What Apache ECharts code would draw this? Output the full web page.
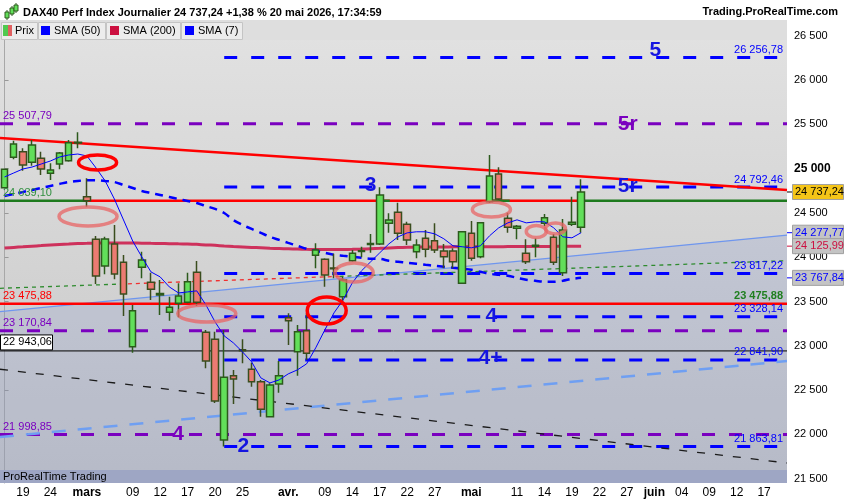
<!DOCTYPE html>
<html><head><meta charset="utf-8">
<script src="https://cdn.jsdelivr.net/npm/echarts@6/dist/echarts.min.js"></script>
<style>html,body{margin:0;padding:0;background:#fff}#c{width:850px;height:500px}</style>
</head><body><div id="c"></div>
<script>
// ---------- DATA ----------
const dates = ['02-17','02-18','02-19','02-20','02-23','02-24','02-25','02-26','02-27',
'03-02','03-03','03-04','03-05','03-06','03-09','03-10','03-11','03-12','03-13','03-16','03-17','03-18','03-19','03-20','03-23','03-24','03-25','03-26','03-27','03-30','03-31',
'04-01','04-02','04-07','04-08','04-09','04-10','04-13','04-14','04-15','04-16','04-17','04-20','04-21','04-22','04-23','04-24','04-27','04-28','04-29','04-30',
'05-04','05-05','05-06','05-07','05-08','05-11','05-12','05-13','05-14','05-15','05-18','05-19','05-20','05-21','05-22','05-25','05-26','05-27','05-28','05-29',
'06-01','06-02','06-03','06-04','06-05','06-08','06-09','06-10','06-11','06-12','06-15','06-16','06-17','06-18','06-19'];

const opens  = [24786,25129,25192,25073,25118,24948,25053,25091,25290,24684,24203,23902,24150,23944,22991,23887,23718,23575,23379,23481,23492,23831,23153,23074,21937,22663,22955,22736,22596,22200,22570,23318,22934,23172,24023,23977,23880,23555,23962,24065,24145,24150,24384,24508,24373,24063,24215,24187,24071,24071,23706,24271,24007,24628,24940,24440,24327,24045,24125,24384,24226,23826,24373,24339];
const closes = [24994,25279,25042,25268,24997,24986,25177,25294,25300,24639,23789,24207,23812,23586,23397,23970,23639,23590,23436,23563,23724,23492,22829,22378,22645,22626,22945,22596,22284,22558,22663,23284,23160,22916,24082,23800,23870,23744,24045,24075,24155,24703,24421,24271,24195,24139,24090,24082,24007,23950,24289,23989,24391,24918,24658,24339,24350,23950,24135,24447,23944,24308,24395,24737.24];
const lows   = [24780,25106,24978,25034,24929,24873,24993,25080,25230,24571,23699,23808,23752,23337,22923,23763,23518,23349,23284,23323,23480,23450,22747,22355,21863.81,22343,22803,22540,22200,22193,22471,23009,22664,22840,23876,23668,23763,23506,23950,24000,24052,24140,24278,24195,24139,23989,24000,24049,23876,23876,23699,23962,23989,24613,24647,24278,24203,23924,24000,24354,23913,23789,24354,24278];
const highs  = [25000,25316,25230,25324,25192,25061,25189,25324,25411,24892,24240,24233,24365,24026,23461,24063,23826,23744,23555,23706,23826,23958,23179,23160,23179,22727,23074,22810,22614,22577,22829,23368,23236,23368,24158,23989,24039,23781,24082,24120,24263,24790,24497,24616,24402,24203,24308,24384,24150,24102,24295,24410,24398,25155,25016,24504,24365,24203,24215,24489,24263,24432,24684,24880];

const sma7   = [24907,24952,24997,25019,25053,25087,25132,25155,25166,25144,25008,24861,24658,24421,24184,24004,23835,23779,23666,23598,23609,23621,23463,23271,23113,23034,22932,22819,22639,22582,22616,22684,22729,22797,22978,23181,23373,23520,23712,23847,23949,24051,24152,24231,24276,24288,24288,24265,24209,24130,24119,24107,24130,24243,24333,24389,24423,24389,24401,24401,24333,24231,24220,24277.77];
const sma50  = [24692,24715,24737,24760,24782,24805,24828,24850,24862,24870,24870,24862,24850,24816,24782,24749,24726,24704,24681,24658,24636,24613,24579,24546,24500,24421,24365,24320,24276,24231,24197,24163,24130,24096,24073,24051,24028,24017,24006,23994,23983,23983,23960,23949,23938,23927,23915,23904,23893,23881,23870,23859,23836,23814,23803,23791,23769,23746,23735,23724,23724,23735,23757,23767.84];
const sma200 = [24105,24112,24118,24125,24132,24139,24145,24150,24155,24158,24161,24162,24162,24162,24161,24160,24158,24156,24154,24152,24150,24146,24140,24135,24128,24122,24117,24112,24107,24102,24099,24096,24093,24090,24088,24087,24087,24088,24090,24093,24097,24101,24106,24110,24113,24115,24116,24117,24117,24118,24118,24119,24119,24120,24120,24121,24121,24122,24122,24123,24123,24124,24125,24125.99];

const tickDates = ['02-19','02-24','03-02','03-09','03-12','03-17','03-20','03-25','04-01','04-09','04-14','04-17','04-22','04-27','05-04','05-11','05-14','05-19','05-22','05-27','06-01','06-04','06-09','06-12','06-17'];
const tickTexts = ['19','24','mars','09','12','17','20','25','avr.','09','14','17','22','27','mai','11','14','19','22','27','juin','04','09','12','17'];
const monthTexts = ['mars','avr.','mai','juin'];
const yTicks = [21500,22000,22500,23000,23500,24000,24500,25000,25500,26000,26500];

const blueLevels   = [26256.78,24792.46,23817.22,23328.14,22841.90,21863.81];
const purpleLevels = [25507.79,23170.84,21998.85];
const redLevel   = 23475.88;
const gapLevel   = 24639.10;
const blackLevel = 22943.06;

// trend lines: [x0, y0, x1, y1] in bar index units
const redTrend   = [-0.5,25347, 85.5,24760];
const blueTrend  = [-0.5,23386, 85.5,24251];
const blueDashTrend = [-0.5,21971, 85.5,22829];
const blackDashTrend = [-0.5,22736, 85.5,21678];
const greenDotTrend = [-0.5,23650, 85.5,23962];
const redDotRange = [12.6, 36.6];

// ellipses: center x (index), center y (value), half-width (bars), half-height (points), strong?
const ellX  = [10.16, 9.12, 22.1, 35.2, 38.2, 53.2, 58.1, 60.2];
const ellY  = [25070, 24461, 23366, 23399, 23828, 24540, 24291, 24325];
const ellRX = [2.08, 3.17, 3.17, 2.13, 2.08, 2.08, 1.09, 1.09];
const ellRY = [85, 107, 96, 152, 107, 85, 68, 62];
const ellStrong = [1,0,0,1,0,0,0,0];

// wave annotations
const waveTexts = ['5','5r','5r','3','4','4+','4','2'];
const waveX = [71.1, 68.1, 68.1, 40.0, 53.2, 53.1, 18.95, 26.1];
const waveY = [26340, 25505, 24805, 24816, 23337, 22863, 22005, 21870];
const wavePurple = [0,1,0,0,0,0,1,0];

// ---------- HELPERS ----------
const FONT = '"Liberation Sans", Arial, sans-serif';
const BLUE = '#0000ff', PURPLE = '#7a00bf', RED = '#ff0000', GREEN = '#1e7a1e', CRIMSON = '#cc1040';
function sp(s){ return s.replace(/\B(?=(\d{3})+(?!\d))/g,' '); }
function fmt2(v){ const p = v.toFixed(2).split('.'); return sp(p[0]) + ',' + p[1]; }
function fmt0(v){ return sp(String(v)); }
const XMIN = -0.5, XMAX = dates.length - 0.5;

function seg(x0,y0,x1,y1,color,width,type,z){
  return {type:'line', xAxisIndex:1, yAxisIndex:0, data:[[x0,y0],[x1,y1]], symbol:'none', silent:true,
    lineStyle:{color:color,width:width,type:type||'solid',cap:'butt'}, z:z||2, animation:false};
}
function lerp(t, x){ return t[1] + (t[3]-t[1])*(x-t[0])/(t[2]-t[0]); }

const series = [];
// area under the ascending light-blue line
series.push({type:'line', xAxisIndex:1, yAxisIndex:0, data:[[blueTrend[0],blueTrend[1]],[blueTrend[2],blueTrend[3]]],
  symbol:'none', silent:true, lineStyle:{color:'#6f96ee',width:1.2},
  areaStyle:{color:'rgba(105,128,205,0.24)', origin:'start'}, z:1, animation:false});
purpleLevels.forEach(v => series.push(seg(XMIN,v,XMAX,v,PURPLE,3,[13,14],2)));
blueLevels.forEach(v => series.push(seg(24,v,XMAX,v,BLUE,3,[13,14],2)));
series.push(seg(XMIN,redLevel,XMAX,redLevel,RED,2.5,'solid',3));
series.push(seg(9.1,gapLevel,63.1,gapLevel,RED,2.5,'solid',3));
[[XMIN,9.1],[41.0,42.1],[53.0,55.2],[63.1,XMAX]].forEach(g => series.push(seg(g[0],gapLevel,g[1],gapLevel,GREEN,2.5,'solid',3)));
series.push(seg(XMIN,blackLevel,XMAX,blackLevel,'#000',1,'solid',3));
series.push(seg(redTrend[0],redTrend[1],redTrend[2],redTrend[3],RED,2.5,'solid',3));
series.push(seg(blueDashTrend[0],blueDashTrend[1],blueDashTrend[2],blueDashTrend[3],'#6f9ff2',2.5,[14,12],2));
series.push(seg(blackDashTrend[0],blackDashTrend[1],blackDashTrend[2],blackDashTrend[3],'#1a1a1a',1.3,[8,10],2));
series.push(seg(greenDotTrend[0],greenDotTrend[1],redDotRange[0],lerp(greenDotTrend,redDotRange[0]),'#2e8b2e',1.3,[4,4],2));
series.push(seg(redDotRange[0],lerp(greenDotTrend,redDotRange[0]),redDotRange[1],lerp(greenDotTrend,redDotRange[1]),'#f03030',1.3,[4,4],2));
series.push(seg(redDotRange[1],lerp(greenDotTrend,redDotRange[1]),greenDotTrend[2],greenDotTrend[3],'#2e8b2e',1.3,[4,4],2));
series.push({type:'line', name:'SMA (200)', data:sma200, symbol:'none', silent:true, smooth:0.3,
  lineStyle:{color:'rgba(205,20,70,0.85)',width:3}, z:4, animation:false});
series.push({type:'line', name:'SMA (50)', data:sma50, symbol:'none', silent:true, smooth:0.3,
  lineStyle:{color:BLUE,width:2.5,type:[8,6]}, z:4, animation:false});
series.push({type:'candlestick', name:'Prix', barWidth:7, z:5, silent:true, animation:false,
  data: opens.map((o,i)=>[o, closes[i], lows[i], highs[i]]),
  itemStyle:{color:'#62df5a', color0:'#ec7b72', borderColor:'#2c5a1c', borderColor0:'#3a4d1e', borderColorDoji:'#2c5a1c', borderWidth:1.5}});
series.push({type:'line', name:'SMA (7)', data:sma7, symbol:'none', silent:true,
  lineStyle:{color:BLUE,width:1}, z:6, animation:false});
series.push({type:'custom', xAxisIndex:1, yAxisIndex:0, z:7, silent:true, animation:false,
  data: ellX.map((x,i)=>[x, ellY[i]]),
  renderItem:function(params, api){
    const i = params.dataIndex;
    const c = api.coord([ellX[i], ellY[i]]);
    const ex = api.coord([ellX[i]+ellRX[i], ellY[i]]);
    const ey = api.coord([ellX[i], ellY[i]+ellRY[i]]);
    return {type:'ellipse', shape:{cx:c[0], cy:c[1], rx:Math.abs(ex[0]-c[0]), ry:Math.abs(c[1]-ey[1])},
      style:{fill:null, stroke: ellStrong[i] ? '#ff0000' : 'rgba(232,100,100,0.75)', lineWidth: 3.5}};
  }});
series.push({type:'custom', xAxisIndex:1, yAxisIndex:0, z:8, silent:true, animation:false,
  data: waveX.map((x,i)=>[x, waveY[i]]),
  renderItem:function(params, api){
    const i = params.dataIndex;
    const c = api.coord([waveX[i], waveY[i]]);
    return {type:'text', style:{text:waveTexts[i], x:c[0], y:c[1], align:'center', verticalAlign:'middle',
      font:'bold 21px ' + FONT, fill: wavePurple[i] ? PURPLE : '#1515e0'}};
  }});
const leftVals = [gapLevel, purpleLevels[0], redLevel, purpleLevels[1], purpleLevels[2]];
const leftCols = ['#2f8f3f', PURPLE, RED, PURPLE, PURPLE];
series.push({type:'custom', xAxisIndex:1, yAxisIndex:0, z:8, silent:true, animation:false, clip:false,
  data: leftVals.map(v=>[XMIN, v]),
  renderItem:function(params, api){
    const i = params.dataIndex;
    const c = api.coord([XMIN, leftVals[i]]);
    return {type:'text', style:{text:fmt2(leftVals[i]), x:c[0]+3, y:c[1]-2, align:'left', verticalAlign:'bottom',
      font:'11px ' + FONT, fill:leftCols[i]}};
  }});
series.push({type:'custom', xAxisIndex:1, yAxisIndex:0, z:8, silent:true, animation:false, clip:false,
  data: [[XMIN, blackLevel]],
  renderItem:function(params, api){
    const c = api.coord([XMIN, blackLevel]);
    return {type:'group', children:[
      {type:'rect', shape:{x:c[0]+0.5, y:c[1]-16, width:52, height:15}, style:{fill:'#fff', stroke:'#000', lineWidth:1}},
      {type:'text', style:{text:fmt2(blackLevel), x:c[0]+3, y:c[1]-8.5, align:'left', verticalAlign:'middle', font:'11px ' + FONT, fill:'#000'}}
    ]};
  }});
const rightVals = blueLevels.concat([redLevel]);
const rightCols = blueLevels.map(()=>BLUE).concat(['#1f7f1f']);
series.push({type:'custom', xAxisIndex:1, yAxisIndex:0, z:8, silent:true, animation:false, clip:false,
  data: rightVals.map(v=>[XMAX, v]),
  renderItem:function(params, api){
    const i = params.dataIndex;
    const c = api.coord([XMAX, rightVals[i]]);
    const isRed = rightVals[i] === redLevel;
    return {type:'text', style:{text:fmt2(rightVals[i]), x:c[0]-4, y:c[1]-2, align:'right', verticalAlign:'bottom',
      font:(isRed ? 'bold ' : '') + '11px ' + FONT, fill:rightCols[i]}};
  }});
const boxVals = [closes[closes.length-1], sma7[sma7.length-1], sma200[sma200.length-1], sma50[sma50.length-1]];
const boxText = ['#000', BLUE, CRIMSON, BLUE];
const boxFill = ['#f5c518', '#c4c4c4', '#c4c4c4', '#c4c4c4'];
series.push({type:'custom', xAxisIndex:1, yAxisIndex:0, z:9, silent:true, animation:false, clip:false,
  data: boxVals.map(v=>[XMAX, v]),
  renderItem:function(params, api){
    const i = params.dataIndex;
    const c = api.coord([XMAX, boxVals[i]]);
    return {type:'group', children:[
      {type:'line', shape:{x1:c[0], y1:c[1], x2:c[0]+5, y2:c[1]}, style:{stroke:boxText[i], lineWidth:1}},
      {type:'rect', shape:{x:c[0]+5.5, y:c[1]-7.5, width:51, height:15}, style:{fill:boxFill[i], stroke:'#a0a0a0', lineWidth:1}},
      {type:'text', style:{text:fmt2(boxVals[i]), x:c[0]+8, y:c[1], align:'left', verticalAlign:'middle', font:'11px ' + FONT, fill:boxText[i]}}
    ]};
  }});

const tickMap = {};
tickDates.forEach((d,i)=>tickMap[d]=tickTexts[i]);

const option = {
  animation:false,
  backgroundColor:'#fff',
  grid:{left:0, right:63, top:20, bottom:17, show:true, borderWidth:0,
    backgroundColor:{type:'linear', x:0, y:0, x2:0, y2:1, colorStops:[{offset:0,color:'#e2e2e2'},{offset:1,color:'#c6c6c6'}]}},
  xAxis:[
    {type:'category', data:dates, boundaryGap:true,
     axisLine:{show:false}, axisTick:{show:false}, splitLine:{show:false},
     axisLabel:{interval:(idx, val)=> tickMap[val] !== undefined, margin:4, fontFamily:FONT, fontSize:12, color:'#000',
       formatter:(val)=>{ const t = tickMap[val]; if (t === undefined) return ''; return monthTexts.indexOf(t) >= 0 ? '{m|' + t + '}' : t; },
       rich:{m:{fontWeight:'bold', fontSize:12, fontFamily:FONT, color:'#000'}}}},
    {type:'value', min:XMIN, max:XMAX, show:false}
  ],
  yAxis:[{type:'value', position:'right', min:21452, max:26679, scale:true,
    axisLine:{show:true, lineStyle:{color:'#a8a8a8', width:1}},
    axisTick:{show:true, length:4, customValues:yTicks, lineStyle:{color:'#999'}},
    splitLine:{show:false},
    axisLabel:{customValues:yTicks, margin:7, fontFamily:FONT, fontSize:11, color:'#000',
      formatter:(v)=> v === 25000 ? '{b|' + fmt0(v) + '}' : fmt0(v),
      rich:{b:{fontWeight:'bold', fontSize:12, fontFamily:FONT, color:'#000'}}}}],
  graphic:[
    {type:'rect', shape:{x:0,y:0,width:850,height:20}, style:{fill:'#fff'}, z:10},
    {type:'rect', shape:{x:0,y:20,width:787,height:20}, style:{fill:'#dedede'}, z:10},
    {type:'line', shape:{x1:7,y1:10,x2:7,y2:20}, style:{stroke:'#2c5a1c',lineWidth:1}, z:11},
    {type:'rect', shape:{x:5,y:12,width:4,height:6}, style:{fill:'#62df5a',stroke:'#2c5a1c',lineWidth:1}, z:12},
    {type:'line', shape:{x1:12,y1:6,x2:12,y2:16}, style:{stroke:'#2c5a1c',lineWidth:1}, z:11},
    {type:'rect', shape:{x:10,y:8,width:4,height:6}, style:{fill:'#62df5a',stroke:'#2c5a1c',lineWidth:1}, z:12},
    {type:'line', shape:{x1:16,y1:3,x2:16,y2:13}, style:{stroke:'#2c5a1c',lineWidth:1}, z:11},
    {type:'rect', shape:{x:14,y:5,width:4,height:6}, style:{fill:'#62df5a',stroke:'#2c5a1c',lineWidth:1}, z:12},
    {type:'text', style:{text:'DAX40 Perf Index Journalier 24 737,24 +1,38 % 20 mai 2026, 17:34:59', x:23, y:13, verticalAlign:'middle', font:'bold 11px ' + FONT, fill:'#000'}, z:11},
    {type:'text', style:{text:'Trading.ProRealTime.com', x:838, y:12, align:'right', verticalAlign:'middle', font:'bold 11px ' + FONT, fill:'#000'}, z:11},
    {type:'rect', shape:{x:1.5,y:22.5,width:36,height:17}, style:{fill:'#ececec',stroke:'#c4c4c4'}, z:11},
    {type:'rect', shape:{x:3,y:25,width:5,height:11}, style:{fill:'#4fc94f'}, z:12},
    {type:'rect', shape:{x:8,y:25,width:4,height:11}, style:{fill:'#e06060'}, z:12},
    {type:'text', style:{text:'Prix', x:15, y:31, verticalAlign:'middle', font:'11px ' + FONT, fill:'#000'}, z:12},
    {type:'rect', shape:{x:38.5,y:22.5,width:67,height:17}, style:{fill:'#ececec',stroke:'#c4c4c4'}, z:11},
    {type:'rect', shape:{x:41,y:26,width:9,height:9}, style:{fill:BLUE}, z:12},
    {type:'text', style:{text:'SMA (50)', x:54, y:31, verticalAlign:'middle', font:'11px ' + FONT, fill:'#000'}, z:12},
    {type:'rect', shape:{x:106.5,y:22.5,width:74,height:17}, style:{fill:'#ececec',stroke:'#c4c4c4'}, z:11},
    {type:'rect', shape:{x:110,y:26,width:9,height:9}, style:{fill:CRIMSON}, z:12},
    {type:'text', style:{text:'SMA (200)', x:123, y:31, verticalAlign:'middle', font:'11px ' + FONT, fill:'#000'}, z:12},
    {type:'rect', shape:{x:181.5,y:22.5,width:61,height:17}, style:{fill:'#ececec',stroke:'#c4c4c4'}, z:11},
    {type:'rect', shape:{x:185,y:26,width:9,height:9}, style:{fill:BLUE}, z:12},
    {type:'text', style:{text:'SMA (7)', x:198, y:31, verticalAlign:'middle', font:'11px ' + FONT, fill:'#000'}, z:12},
    {type:'rect', shape:{x:0,y:470,width:787,height:13}, style:{fill:'#a9aec2'}, z:1},
    {type:'text', style:{text:'ProRealTime Trading', x:3, y:477, verticalAlign:'middle', font:'11px ' + FONT, fill:'#000'}, z:2}
  ],
  series: series
};
const chart = echarts.init(document.getElementById('c'), null, {renderer:'canvas'});
chart.setOption(option);
</script></body></html>
